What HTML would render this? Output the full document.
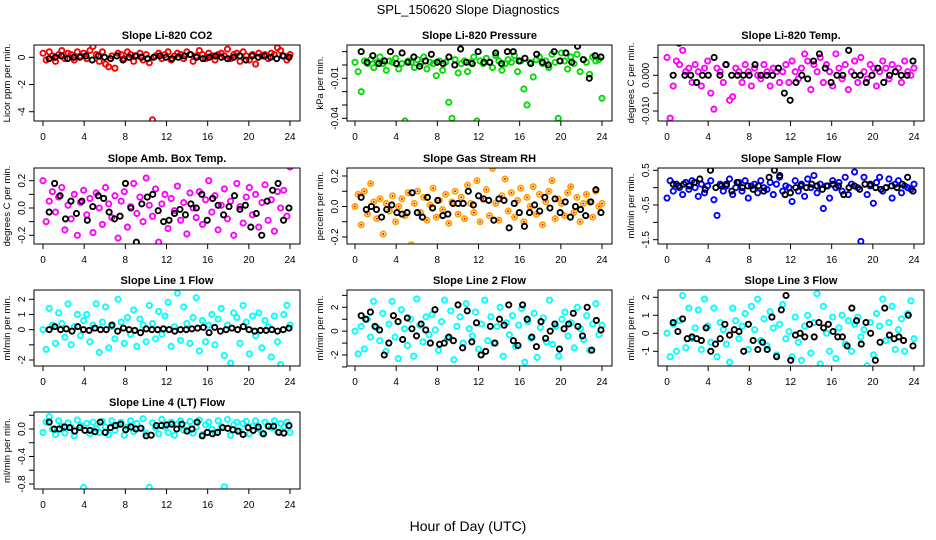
<!DOCTYPE html>
<html><head><meta charset="utf-8"><style>
html,body{margin:0;padding:0;background:#fff}
svg{display:block;font-family:"Liberation Sans",sans-serif}
</style></head><body>
<svg id="c" width="936" height="540" viewBox="0 0 936 540">
<text x="468" y="14" text-anchor="middle" font-size="13">SPL_150620  Slope Diagnostics</text>
<text x="468" y="531" text-anchor="middle" font-size="14">Hour of Day (UTC)</text>
</svg>
<script>
const xTicks=[0,4,8,12,16,20,24];
const titles=["Slope Li-820 CO2","Slope Li-820 Pressure","Slope Li-820 Temp.","Slope Amb. Box Temp.","Slope Gas Stream RH","Slope Sample Flow","Slope Line 1 Flow","Slope Line 2 Flow","Slope Line 3 Flow","Slope Line 4 (LT) Flow"];
const ylabels=["Licor ppm per min.","kPa per min.","degrees C per min.","degrees C per min.","percent per min.","ml/min per min.","ml/min per min.","ml/min per min.","ml/min per min.","ml/min per min."];
const colors=["#ff0000","#00dd00","#ff00ff","#ff00ff","#ffa500","#0000ff","#00ffff","#00ffff","#00ffff","#00ffff"];
const yTicks=[[0,-2,-4],[0.01,0,-0.01,-0.02,-0.03,-0.04],[0.005,0,-0.005,-0.01],[0.2,0.1,0,-0.1,-0.2],[0.2,0.1,0,-0.1,-0.2],[0.5,0,-0.5,-1,-1.5],[2,1,0,-1,-2],[3,2,1,0,-1,-2,-3],[2,1,0,-1],[0.2,0,-0.2,-0.4,-0.6,-0.8]];
const yTickLabels=[["0","-2","-4"],["","","-0.01","","","-0.04"],["","0.000","","-0.010"],["0.2","","0.0","","-0.2"],["0.2","","0.0","","-0.2"],["0.5","","-0.5","","-1.5"],["2","1","0","","-2"],["","2","","0","","-2",""],["2","1","0","-1"],["","0.0","","-0.4","","-0.8"]];
const colorVals=[
[0.3,-0.2,0.4,0.1,-0.3,0.2,0.5,-0.1,0.3,0.2,-0.2,0.4,0.1,0.3,-0.1,0.5,0.8,0.2,-0.3,0.4,-0.5,-0.7,0.1,-0.8,0.3,0.2,-0.1,0.4,0.2,-0.3,0.1,0.3,-0.2,0.2,-0.4,-4.6,0.1,0.3,-0.1,0.2,0.4,-0.2,0.1,0.3,0.2,-0.1,0.4,0.2,-0.3,0.1,0.5,0.2,-0.1,0.3,0.1,-0.2,0.2,0.3,0.1,0.6,-0.1,0.2,0.3,-0.3,0.4,0.1,-0.2,0.2,-0.5,0.3,0.1,0.2,-0.1,0.3,0.2,0.7,0.5,0.1,-0.2,0.2],
[0.002,-0.005,-0.02,0.003,0.001,0.004,-0.002,0.002,0.006,0.001,-0.004,0.003,0.002,0.005,-0.003,0.001,-0.042,0.003,0.002,-0.002,0.004,0.001,0.006,-0.003,0.002,0.001,-0.008,0.003,-0.004,0.002,-0.028,-0.04,0.004,-0.006,0.001,0.003,-0.005,0.002,0.006,-0.042,0.003,0.001,0.005,0.002,-0.002,0.007,0.003,-0.004,0.001,0.004,0.002,0.007,-0.005,0.003,-0.018,-0.03,0.002,-0.009,0.004,0.006,0.001,0.003,-0.002,0.008,0.002,-0.04,0.009,0.003,-0.003,0.006,0.001,0.008,-0.005,0.004,0.002,-0.007,0.006,0.003,0.004,-0.025],
[0.005,-0.012,-0.003,0.004,0.003,0.007,0.001,0.002,-0.002,0.003,0.001,-0.003,0.002,0.004,-0.005,-0.0095,0.002,0.001,-0.002,0.003,-0.007,-0.006,0.002,0.001,-0.002,0.003,0.001,-0.003,0.002,0.0,-0.001,0.003,0.001,-0.003,0.002,0.001,-0.002,0.001,0.003,-0.002,0.004,0.001,-0.001,0.002,0.006,0.004,-0.004,0.003,0.001,0.005,-0.002,0.003,0.001,-0.003,0.006,0.002,-0.001,0.003,-0.004,0.001,0.004,-0.002,0.005,0.001,-0.001,0.003,0.002,-0.003,0.001,0.004,0.002,-0.001,0.003,0.001,0.002,-0.002,0.004,0.001,0.0,0.002],
[0.2,-0.1,0.05,0.12,-0.03,0.08,0.15,-0.16,0.02,-0.08,0.1,-0.2,0.04,0.13,-0.05,0.07,-0.18,0.11,0.0,-0.12,0.15,0.03,-0.07,0.09,-0.22,0.05,0.12,-0.14,0.01,0.18,-0.04,0.08,-0.1,0.22,0.02,-0.06,0.14,-0.25,0.03,0.1,-0.15,0.07,-0.02,0.16,-0.09,0.04,-0.19,0.11,0.0,-0.07,0.12,-0.12,0.06,0.2,-0.03,0.09,-0.16,0.02,0.14,-0.08,0.05,-0.2,0.18,0.01,-0.11,0.08,0.15,-0.05,0.1,-0.14,0.04,0.17,-0.09,0.06,-0.17,0.12,0.0,0.13,-0.06,0.3],
[0.0,0.08,-0.12,0.1,-0.05,0.15,0.03,-0.08,0.05,-0.18,0.02,-0.03,0.07,-0.1,0.0,0.05,-0.06,0.09,-0.25,0.02,0.1,-0.04,0.06,-0.09,0.01,0.12,-0.07,0.04,-0.02,0.08,-0.11,0.03,0.1,-0.05,0.06,-0.08,0.14,0.02,-0.04,0.17,-0.1,0.05,0.11,-0.06,0.25,0.02,-0.09,0.07,0.18,-0.03,0.09,-0.07,0.04,0.12,-0.1,0.06,0.0,0.13,-0.05,0.08,-0.12,0.03,0.1,0.17,-0.08,0.05,0.02,-0.06,0.09,0.13,-0.04,0.06,-0.1,0.02,0.08,0.03,-0.07,0.1,0.0,0.02],
[-0.3,0.2,-0.1,0.1,0.0,-0.2,0.15,-0.05,0.2,0.0,-0.25,0.1,-0.15,0.05,0.2,-0.35,-0.8,0.1,-0.1,0.05,0.25,-0.2,0.0,0.15,-0.1,0.2,-0.3,0.05,0.1,-0.15,0.2,0.0,-0.05,0.15,-0.2,0.1,0.3,-0.1,0.05,0.0,-0.4,0.2,-0.1,0.1,-0.25,0.25,0.0,0.35,-0.15,0.1,-0.6,0.05,-0.3,0.2,0.0,0.15,-0.1,0.3,-0.2,0.1,0.45,0.0,-1.55,0.3,-0.2,0.05,-0.45,0.15,0.3,-0.1,0.0,0.25,-0.3,0.1,0.2,-0.15,0.05,0.0,-0.05,0.1],
[0.0,-1.3,1.4,0.3,-0.9,1.1,0.4,-0.5,1.7,-1.0,0.2,1.0,-0.4,0.6,1.0,-0.8,0.3,1.7,-1.5,0.5,1.5,-1.2,0.2,-0.6,2.0,0.5,-0.9,0.8,-0.3,1.3,-1.1,0.7,0.3,-0.8,1.6,0.4,-0.6,1.2,-0.3,0.9,1.8,-1.1,0.2,2.4,-0.7,1.5,0.4,-0.9,0.8,2.1,-1.4,0.6,-0.8,0.3,1.0,-1.0,0.7,1.4,-1.7,0.3,-2.2,1.1,0.8,-0.9,1.6,0.5,-1.6,0.9,-0.4,1.1,-1.2,0.6,0.2,-1.8,0.9,-0.8,-2.3,1.0,1.6,0.3],
[0.0,-1.9,0.4,-1.5,1.0,-0.5,2.5,0.3,-0.8,1.5,-1.7,0.6,2.5,-0.5,-2.3,1.8,0.2,-1.2,1.0,-2.1,2.7,0.5,-0.9,1.2,-0.3,1.4,0.1,-1.6,0.8,2.6,-0.6,1.7,-2.4,0.4,1.2,-1.0,2.3,0.2,-0.4,1.6,-1.5,0.6,2.6,-0.8,1.2,-1.0,0.4,2.0,-2.1,0.7,-0.3,1.3,-1.3,0.5,1.9,-2.6,0.8,-0.6,1.5,-2.2,0.3,1.1,-0.9,2.6,-1.1,0.4,-2.1,1.0,1.6,-0.4,0.7,-1.4,2.0,0.2,-0.7,1.3,-1.6,0.6,2.3,-0.3,0.5],
[0.0,-1.3,0.5,-1.0,0.7,2.1,-0.8,1.4,-0.3,0.3,1.3,-0.9,1.9,0.4,-0.5,1.4,-1.3,0.6,0.2,-0.6,-1.6,1.4,0.7,-0.3,0.4,1.1,-0.9,1.5,0.2,1.9,-0.4,0.8,-0.7,1.2,0.3,-1.2,0.5,1.6,-0.3,0.1,-1.3,0.9,-0.5,-1.5,0.4,1.0,-1.1,0.6,2.2,-1.7,1.5,0.0,-1.0,0.9,-1.4,0.3,1.0,-0.6,0.7,-1.0,0.5,0.9,-0.2,0.2,-1.8,0.6,-1.2,1.1,0.4,1.9,-0.4,0.6,1.5,-0.9,0.2,0.8,-1.0,1.1,1.8,-0.3],
[-0.05,0.1,0.18,0.0,-0.08,0.12,0.04,-0.06,0.09,0.02,-0.1,0.13,0.05,-0.85,0.08,-0.07,0.1,0.01,-0.05,0.11,0.03,-0.08,0.12,-0.02,0.06,0.1,-0.09,0.03,0.12,-0.04,0.08,0.02,0.15,-0.06,-0.85,0.09,0.02,-0.07,0.14,0.03,-0.05,0.1,-0.09,0.07,0.12,-0.02,0.05,0.11,-0.06,0.03,0.13,-0.08,0.06,0.1,0.0,-0.05,0.12,0.04,-0.84,0.14,-0.09,0.06,0.1,-0.03,0.08,0.11,-0.07,0.04,0.12,0.0,-0.06,0.1,0.05,0.02,0.12,-0.04,0.08,0.03,0.1,-0.05]];
const blackVals=[
[-0.1,0,0.1,-0.1,0,0,0.1,-0.2,0.1,0,-0.1,0.1,-0.2,0,0.1,0,-0.1,0,0.1,0,-0.1,0,0.1,0.2,0,-0.1,0,0.1,0,-0.1,0,0.1,-0.2,0.1,0,0.1,0,-0.1,0.1,0],
[0.01,0.002,0.007,0.001,0.003,0.01,0.001,0.009,0.002,0.006,-0.001,0.003,0.008,0.002,0.001,0.006,0.0,0.012,0.002,0.001,0.01,0.002,0.002,0.009,0.001,0.01,0.01,0.003,0.005,0.001,0.008,0.002,0.0,0.01,0.003,0.009,0.002,0.014,0.004,-0.01,0.007,0.006],
[0.0,0.009,0.0,0.0,-0.002,0.0,0.0,0.005,0.0,0.003,0.0,0.0,0.0,0.0,0.003,0.0,0.0,0.0,0.002,-0.005,-0.007,-0.002,0.0,-0.001,0.004,0.006,0.002,-0.002,0.0,0.0,0.007,0.0,0.0,-0.002,0.0,0.002,-0.002,0.0,0.001,0.0,0.0,0.004],
[-0.03,0.18,0.09,-0.08,0.05,-0.04,0.05,-0.09,0.01,0.09,0.07,-0.03,-0.08,-0.06,0.18,0.0,-0.25,0.03,0.08,0.1,-0.02,-0.1,-0.09,-0.04,-0.01,-0.05,0.03,0.0,0.1,-0.09,0.07,0.02,-0.05,0.01,0.09,-0.01,0.02,-0.14,-0.04,-0.2,0.05,0.13,0.18,-0.09,0.0],
[0.06,-0.02,0.0,-0.02,-0.07,-0.02,0.01,-0.04,-0.05,-0.04,0.09,-0.04,-0.07,0.06,-0.01,0.04,-0.06,-0.05,0.02,0.02,0.02,0.1,0.01,0.07,0.05,0.04,-0.09,0.05,0.04,-0.14,0.02,-0.04,-0.13,-0.04,0.01,-0.03,0.06,-0.01,0.05,-0.04,0.03,-0.07,0.0,-0.02,-0.06,0.03,0.11,-0.04],
[0.1,0.05,0.1,0.05,0.15,0.25,-0.05,0.5,0.0,0.05,0.1,-0.1,0.15,0.0,0.05,-0.05,0.05,-0.1,0.3,0.5,0.35,-0.2,-0.15,0.0,0.05,0.0,0.1,0.05,-0.05,0.05,0.1,0.05,-0.2,0.0,0.05,-0.05,0.1,0.1,0.0,-0.05,0.0,0.05,0.0,0.1,0.3,-0.1],
[0.0,0.2,0.0,0.05,-0.1,0.2,0.0,-0.05,0.1,0.0,0.0,0.3,-0.1,0.1,0.0,-0.05,-0.2,0.05,0.0,0.0,0.05,0.0,-0.1,0.0,0.0,0.05,0.1,0.15,-0.2,0.15,-0.1,0.0,0.1,0.0,0.2,0.0,-0.1,-0.05,-0.05,0.0,-0.1,0.0,0.1],
[1.3,1.0,1.6,0.4,0.1,-2.0,-1.0,1.3,0.8,-0.7,1.1,0.2,-0.4,0.6,0.1,-1.0,1.8,-1.1,-1.0,-0.5,-0.8,2.2,-1.4,1.7,-0.9,0.7,-2.0,-1.7,0.4,-1.0,1.0,0.5,2.2,-0.8,-1.2,2.2,1.0,-0.5,-1.3,0.8,-0.6,0.0,0.6,-1.5,0.2,0.6,1.5,0.4,-0.4,2.0,-1.6,0.9,0.1],
[0.6,0.1,0.8,-0.3,-0.2,-0.3,-0.4,0.3,-1.0,-0.6,-0.3,0.5,-0.1,0.2,0.1,-1.0,0.5,-0.4,-0.9,-0.5,-0.9,0.9,-1.3,1.3,2.1,-1.5,-0.1,0.0,-0.2,0.5,-0.2,0.6,0.3,0.5,0.1,-0.2,-0.2,-0.7,1.4,0.7,-0.6,0.6,0.0,-1.5,-0.5,1.4,-0.1,-0.3,-0.2,-0.4,1.0,-0.7],
[0.1,0.0,0.0,0.03,0.02,-0.03,0.02,-0.02,-0.02,-0.04,0.1,-0.05,0.02,0.05,0.07,-0.01,0.03,0.0,0.01,-0.1,-0.09,0.05,0.05,0.06,0.07,0.0,0.07,-0.03,0.0,0.1,-0.1,-0.05,-0.07,-0.05,0.02,0.01,-0.01,-0.03,-0.08,0.02,-0.02,0.03,-0.07,0.04,0.04,-0.05,-0.06,0.05]];

const NS="http://www.w3.org/2000/svg";
const svg=document.getElementById('c');
function mk(tag,attrs,parent){const e=document.createElementNS(NS,tag);for(const k in attrs)e.setAttribute(k,attrs[k]);(parent||svg).appendChild(e);return e;}
const colBox=[[34,300],[347,612],[658,924]];
const colX0=[43,355,667];
const rowBox=[[45,121],[168,244],[290,366],[412,489]];
const yCal=[[0,57.3,-4,111.7],[-0.01,78.3,-0.04,118.3],[0,75.3,-0.01,111],[0.2,180.7,-0.2,235.3],[0.2,176,-0.2,237],[0.5,170.3,-1.5,239.7],[2,299.3,-2,360],[2,307.3,-2,355],[2,297.3,-1,351.3],[0,429,-0.8,484]];
for(let p=0;p<10;p++){
  const col=p%3,row=Math.floor(p/3);
  const [L,R]=colBox[col],[T,B]=rowBox[row];
  const x0=colX0[col],xs=247/24;
  const xScale=h=>x0+h*xs;
  const c=yCal[p];
  const yScale=v=>c[1]+(v-c[0])*(c[3]-c[1])/(c[2]-c[0]);
  const g=mk('g',{});
  
  
  const t=mk('text',{x:(L+R)/2,y:T-6,'text-anchor':'middle','font-size':11,'font-weight':'bold'},g);
  t.textContent=titles[p];
  
  
  const clip=mk('clipPath',{id:'cp'+p},g);
  mk('rect',{x:L,y:T,width:R-L,height:B-T},clip);
  const pts=mk('g',{'clip-path':'url(#cp'+p+')'},g);
  const cv=colorVals[p];
  cv.forEach((v,i)=>{
    const h=i*24/(cv.length-1);
    const e=mk('circle',{cx:xScale(h),cy:yScale(v),r:2.6,fill:'none',stroke:colors[p],'stroke-width':1.9},pts);
    
    
    if(p==4){
      const d=mk('circle',{cx:xScale(h),cy:yScale(v),r:1,fill:'#ff0000'},pts);
      
      
    }
  });
  const bv=blackVals[p];
  bv.forEach((v,i)=>{
    const h=0.6+i*23.3/(bv.length-1);
    const e=mk('circle',{cx:xScale(h),cy:yScale(v),r:2.6,fill:'none',stroke:'#000','stroke-width':1.9},pts);
    
    
  });
  const box=mk('rect',{x:L,y:T,width:R-L,height:B-T,fill:'none',stroke:'#000','stroke-width':1},g);
  
  
  xTicks.forEach(h=>{
    const x=xScale(h);
    mk('line',{x1:x,x2:x,y1:B,y2:B+5,stroke:'#000'},g);
    const tl=mk('text',{x:x,y:B+19,'text-anchor':'middle','font-size':10},g);
    tl.textContent=h;
    
    
  });
  yTicks[p].forEach((v,i)=>{
    const y=yScale(v);
    if(y<T-1||y>B+1)return;
    mk('line',{x1:L-5,x2:L,y1:y,y2:y,stroke:'#000'},g);
    const s=yTickLabels[p][i];
    if(s){
      const tl=mk('text',{x:L-9,y:y,'text-anchor':'middle','font-size':10,transform:`rotate(-90 ${L-9} ${y})`},g);
      tl.textContent=s;
      
      
    }
  });
  const yl=mk('text',{x:L-24,y:(T+B)/2,'text-anchor':'middle','font-size':9.5,transform:`rotate(-90 ${L-24} ${(T+B)/2})`},g);
  yl.textContent=ylabels[p];
  
  
}
</script>
</body></html>
